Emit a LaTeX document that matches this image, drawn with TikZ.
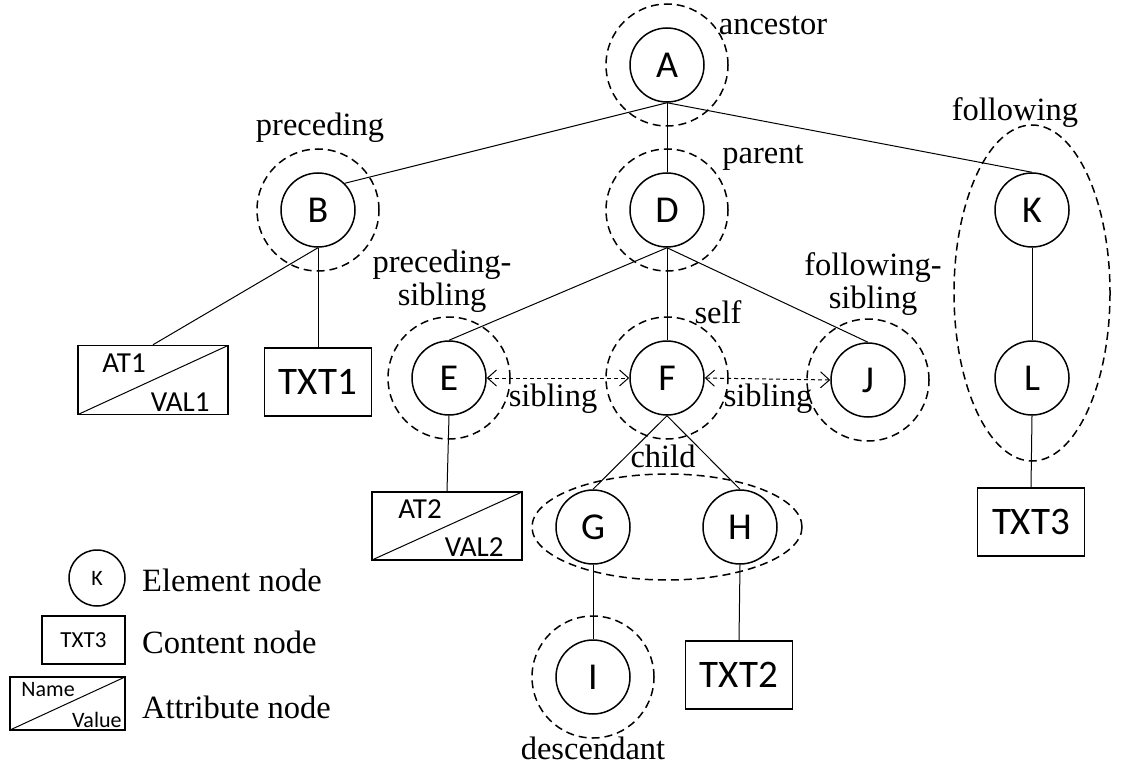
\documentclass[tikz,border=0pt]{standalone}
\usepackage{fontspec}
\setmainfont{Liberation Serif}
\newfontfamily\calibfont{Carlito}
\usetikzlibrary{arrows.meta}

\tikzset{
    elem/.style={draw, circle, line width=1.5pt, minimum size=74pt, inner sep=0pt,
        font=\calibfont\fontsize{38}{38}\selectfont},
    ring/.style={draw, circle, line width=1.5pt, minimum size=122pt,
        dash pattern=on 8pt off 5pt},
    ringline/.style={line width=1.5pt, dash pattern=on 8pt off 5pt},
    content/.style={draw, rectangle, line width=1.5pt, minimum width=107pt,
        minimum height=68pt, font=\calibfont\fontsize{39}{39}\selectfont},
    attr/.style={draw, rectangle, line width=1.5pt, minimum width=150pt,
        minimum height=69pt, path picture={
            \draw[line width=1pt] (path picture bounding box.south west)
                -- (path picture bounding box.north east);}},
    attrname/.style={anchor=north west, inner sep=0pt, xshift=#1,
        font=\calibfont\fontsize{29}{29}\selectfont},
    attrval/.style={anchor=south east, inner sep=0pt, xshift=#1,
        font=\calibfont\fontsize{29}{29}\selectfont},
    lbl/.style={font=\fontsize{32.5}{32.5}\selectfont, inner sep=0pt},
    edge/.style={line width=1pt},
    sib/.style={line width=1pt, dash pattern=on 4pt off 3pt,
        {Straight Barb[length=9pt,width=16pt]}-{Straight Barb[length=9pt,width=16pt]}}
}

\begin{document}
\begin{tikzpicture}[x=1pt, y=-1pt]
    \useasboundingbox (0, 0) rectangle (1124, 765);

    % element nodes
    \node[elem] (a) at (667, 65) {A};
    \node[elem] (b) at (318, 210) {B};
    \node[elem] (d) at (667, 210) {D};
    \node[elem] (k) at (1032, 210) {K};
    \node[elem] (e) at (449, 378) {E};
    \node[elem] (f) at (667, 378) {F};
    \node[elem] (j) at (868, 380) {J};
    \node[elem] (l) at (1032, 378) {L};
    \node[elem] (g) at (593, 527) {G};
    \node[elem] (h) at (740, 527) {H};
    \node[elem] (i) at (593, 677) {I};

    % content and attribute nodes
    \node[content] (txt1) at (318, 382) {TXT1};
    \node[content] (txt2) at (739, 675) {TXT2};
    \node[content] (txt3) at (1031, 522) {TXT3};
    \node[attr,
        label={[attrname=25pt, yshift=-9pt]north west:AT1},
        label={[attrval=-19pt, yshift=4pt]south east:VAL1}] (at1) at (153, 380) {};
    \node[attr, minimum height=68pt,
        label={[attrname=27pt, yshift=-8pt]north west:AT2},
        label={[attrval=-19pt, yshift=4pt]south east:VAL2}] (at2) at (447, 526) {};

    % axis rings
    \node[ring] (ra) at (a) {};
    \node[ring] (rb) at (b) {};
    \node[ring] (rd) at (d) {};
    \node[ring] (re) at (e) {};
    \node[ring] (rf) at (f) {};
    \node[ring] (rj) at (j) {};
    \node[ring] (ri) at (i) {};
    \draw[ringline] (667, 527) ellipse (135 and 53);
    \draw[ringline] (1032, 293) ellipse (78 and 168);

    % tree edges
    \draw[edge] (a.south) -- (b.north east);
    \draw[edge] (a.south) -- (d.north);
    \draw[edge] (a.south) -- (k.north);
    \draw[edge] (b.south) -- (at1.north);
    \draw[edge] (b.south) -- (txt1.north);
    \draw[edge] (d.south) -- (e.north);
    \draw[edge] (d.south) -- (f.north);
    \draw[edge] (d.south) -- (j.north);
    \draw[edge] (e.south) -- (at2.north);
    \draw[edge] (f.south) -- (g.north);
    \draw[edge] (f.south) -- (h.north);
    \draw[edge] (g.south) -- (i.north);
    \draw[edge] (h.south) -- (txt2.north);
    \draw[edge] (k.south) -- (l.north);
    \draw[edge] (l.south) -- (txt3.north);

    \draw[sib] (e.east) -- (f.west);
    \draw[sib] (f.east) -- (j.west);

    % axis labels
    \node[lbl] (lanc) at (773, 26) {ancestor};
    \node[lbl] (lpre) at (320, 128) {preceding};
    \node[lbl] (lpar) at (763, 158) {parent};
    \node[lbl] (lfol) at (1015, 113) {following};
    \node[lbl, align=center] (lpsib) at (442, 281) {preceding-\\sibling};
    \node[lbl] (lself) at (718, 312) {self};
    \node[lbl, align=center] (lfsib) at (873, 284) {following-\\sibling};
    \node[lbl] (lsib1) at (553, 399) {sibling};
    \node[lbl] (lsib2) at (768, 399) {sibling};
    \node[lbl] (lchild) at (663, 456) {child};
    \node[lbl] (ldesc) at (593, 748) {descendant};

    % legend
    \node[elem, minimum size=56pt, font=\calibfont\fontsize{22}{22}\selectfont] (kel) at (97, 578) {K};
    \node[content, minimum width=83pt, minimum height=48pt,
        font=\calibfont\fontsize{23}{23}\selectfont] (kcont) at (83.5, 640) {TXT3};
    \node[attr, minimum width=115pt, minimum height=53pt,
        label={[attrname=12pt, yshift=-6pt, font=\calibfont\fontsize{22}{22}\selectfont]north west:Name},
        label={[attrval=-4pt, yshift=3pt, font=\calibfont\fontsize{22}{22}\selectfont]south east:Value}] (kattr) at (67.5, 703.5) {};
    \node[lbl, anchor=west] (kelt) at (142, 580) {Element node};
    \node[lbl, anchor=west] (kcontt) at (142, 642) {Content node};
    \node[lbl, anchor=west] (kattrt) at (142, 707) {Attribute node};
\end{tikzpicture}
\end{document}
